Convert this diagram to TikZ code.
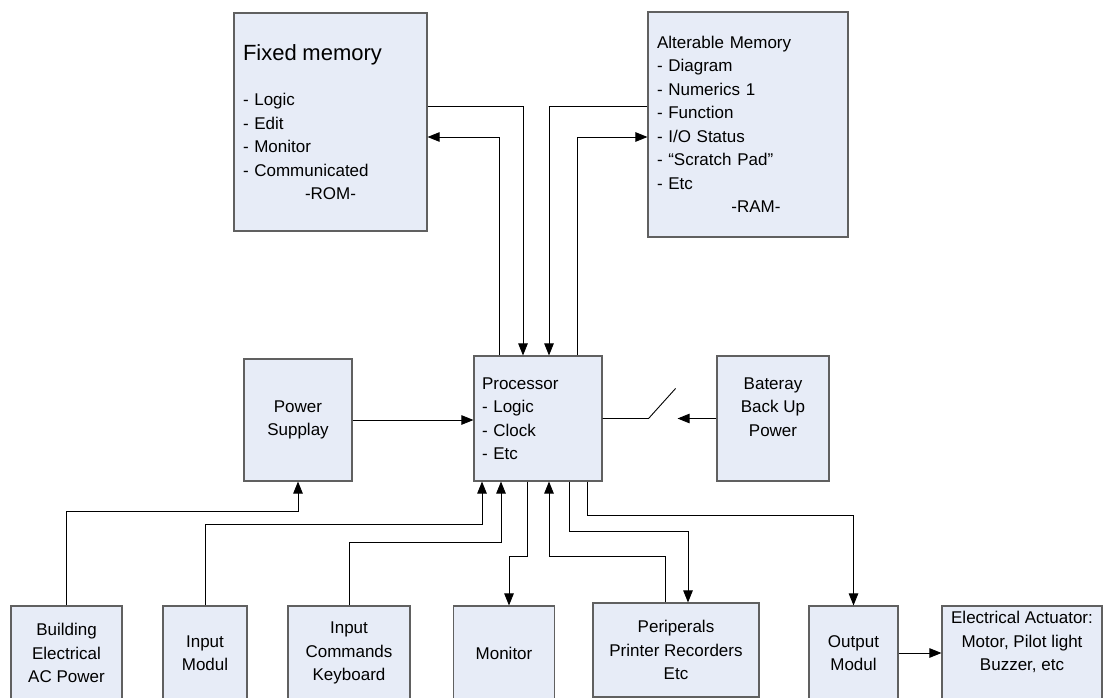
\documentclass[tikz,border=0pt]{standalone}
\usepackage{fontspec}
\setmainfont{Liberation Sans}
\usetikzlibrary{positioning,arrows.meta}

\definecolor{boxfill}{RGB}{231,236,247}
\definecolor{boxline}{RGB}{96,96,96}

\begin{document}
\begin{tikzpicture}[
        x=1pt, y=-1pt,
        block/.style={
                rectangle,
                draw=boxline,
                fill=boxfill,
                line width=1.1pt,
                inner sep=0pt,
                align=center,
                font=\fontsize{17}{23.5}\selectfont
            },
        listblock/.style={
                block,
                inner xsep=9pt,
                align=left
            },
        arr/.style={-{Triangle[length=12pt,width=9.5pt]}},
        wire/.style={line width=0.9pt, black}
    ]
    \useasboundingbox (0,0) rectangle (1105,698);

    % memories
    \node[listblock, minimum width=193pt, minimum height=218pt, text width=175pt] (fixedMem) at (330.5,122)
        {{\fontsize{22}{26}\selectfont Fixed memory}\\[22pt]
         - Logic\\ - Edit\\ - Monitor\\ - Communicated\\
         \makebox[\linewidth][c]{-ROM-}};
    \node[listblock, minimum width=200pt, minimum height=225pt, text width=182pt] (altMem) at (748,124.5)
        {Alterable Memory\\ - Diagram\\ - Numerics 1\\ - Function\\ - I/O Status\\
         - “Scratch Pad”\\ - Etc\\ \makebox[\linewidth][c]{\hspace{16pt}-RAM-}};

    % middle row
    \node[listblock, minimum width=128pt, minimum height=125pt, text width=112pt, inner xsep=8pt] (proc) at (538,418.5)
        {Processor\\ - Logic\\ - Clock\\ - Etc};
    \node[block, minimum width=108pt, minimum height=122pt] (power) at (298,420) {Power\\Supplay};
    \node[block, minimum width=112pt, minimum height=125pt] (battery) at (773,418.5) {Bateray\\Back Up\\Power\\~};

    % bottom row
    \node[block, minimum width=111pt, minimum height=94pt] (building) at (66.5,653) {Building\\Electrical\\AC Power};
    \node[block, minimum width=84pt, minimum height=94pt] (inputModul) at (205,653) {Input\\Modul};
    \node[block, minimum width=122pt, minimum height=94pt] (keyboard) at (349,653) {Input\\Commands\\Keyboard};
    \node[block, minimum width=101pt, minimum height=94pt] (monitor) at (504,653) {Monitor};
    \node[block, minimum width=166pt, minimum height=94pt] (periph) at (676,650) {Periperals\\Printer Recorders\\Etc};
    \node[block, minimum width=89pt, minimum height=94pt] (outModul) at (853.5,653) {Output\\Modul};
    \node[block, minimum width=160pt, minimum height=94pt] (actuator) at (1022,653) {Electrical Actuator:\\Motor, Pilot light\\Buzzer, etc\\~};

    % switch
    \coordinate (swPivot) at ([xshift=46pt]proc.east);
    \coordinate (swLever) at ([shift={(27pt,30pt)}]swPivot);
    \coordinate (swGap) at ([xshift=75pt]proc.east);

    % memory buses
    \draw[wire,arr] ([yshift=16pt]fixedMem.east) -| ([xshift=-15pt]proc.north);
    \draw[wire,arr] ([xshift=-39pt]proc.north) |- ([yshift=-15pt]fixedMem.east);
    \draw[wire,arr] ([yshift=18.5pt]altMem.west) -| ([xshift=11pt]proc.north);
    \draw[wire,arr] ([xshift=39pt]proc.north) |- ([yshift=-12.5pt]altMem.west);

    % power
    \draw[wire,arr] (power.east) -- (power.east -| proc.west);
    \draw[wire] (proc.east) -- (swPivot) -- (swLever);
    \draw[wire,arr] (battery.west) -- (swGap);
    \draw[wire,arr] (building.north) -- ++(0,-94) -| (power.south);

    % inputs and outputs
    \draw[wire,arr] (inputModul.north) -- ++(0,-81) -| ([xshift=-56pt]proc.south);
    \draw[wire,arr] (keyboard.north) -- ++(0,-63) -| ([xshift=-37pt]proc.south);
    \draw[wire,arr] ([xshift=-11pt]proc.south) -- ++(0,75) -| ([xshift=5pt]monitor.north);
    \draw[wire,arr] ([xshift=-11pt]periph.north) -- ++(0,-46) -| ([xshift=11pt]proc.south);
    \draw[wire,arr] ([xshift=31pt]proc.south) -- ++(0,50) -| ([xshift=12pt]periph.north);
    \draw[wire,arr] ([xshift=49pt]proc.south) -- ++(0,34) -| (outModul.north);
    \draw[wire,arr] (outModul.east) -- (actuator.west);
\end{tikzpicture}
\end{document}
